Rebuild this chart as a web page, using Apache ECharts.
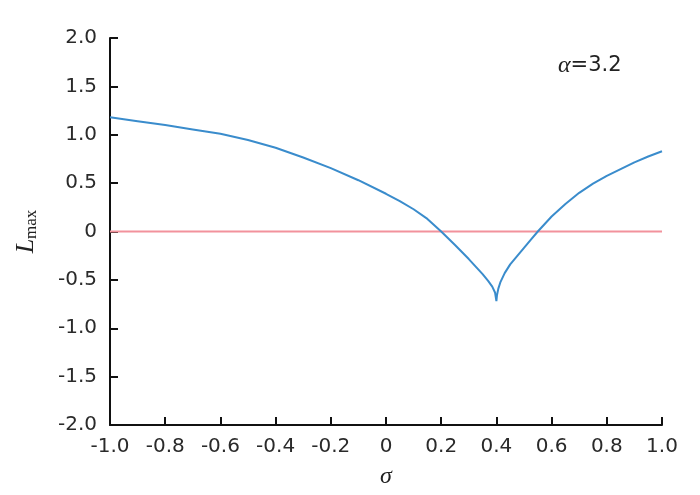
<!DOCTYPE html>
<html>
<head>
<meta charset="utf-8">
<script src="https://cdn.jsdelivr.net/npm/echarts@6/dist/echarts.min.js"></script>
<style>html,body{margin:0;padding:0;background:#fff}#c{width:700px;height:495px}</style>
</head>
<body>
<div id="c"></div>
<script>
const sigma = [-1.0,-0.9,-0.8,-0.7,-0.6,-0.5,-0.4,-0.3,-0.2,-0.1,0.0,0.05,0.1,0.15,0.2,0.25,0.3,0.35,0.37,0.385,0.395,0.40,0.402,0.407,0.415,0.43,0.45,0.475,0.5,0.525,0.55,0.6,0.65,0.7,0.75,0.8,0.85,0.9,0.95,1.0];
const lmax  = [1.18,1.14,1.10,1.055,1.01,0.945,0.865,0.765,0.655,0.53,0.39,0.315,0.23,0.13,0.0,-0.14,-0.285,-0.44,-0.51,-0.57,-0.63,-0.72,-0.66,-0.59,-0.52,-0.43,-0.34,-0.255,-0.17,-0.085,0.0,0.155,0.285,0.40,0.495,0.575,0.645,0.715,0.775,0.83];
const zeroX = [-1.0, 1.0];
const zeroY = [0, 0];
const annotation = '{a|α}{b|=3.2}';

const fmt = v => (Math.abs(v) < 1e-9 ? '0' : v.toFixed(1));
const font = 'DejaVu Sans';

const chart = echarts.init(document.getElementById('c'));
chart.setOption({
  animation: false,
  backgroundColor: '#fff',
  grid: {left: 110, right: 38, top: 38, bottom: 70},
  xAxis: {
    type: 'value', min: -1, max: 1, interval: 0.2,
    axisLine: {show: true, onZero: false, lineStyle: {color: '#111', width: 2}},
    axisTick: {show: true, inside: true, length: 8, lineStyle: {color: '#111', width: 2}},
    splitLine: {show: false},
    axisLabel: {color: '#2a2a2a', fontFamily: font, fontSize: 20, margin: 12, formatter: fmt},
    name: 'σ', nameLocation: 'middle', nameGap: 40,
    nameTextStyle: {fontFamily: 'Liberation Serif', fontStyle: 'italic', fontSize: 24, color: '#222'}
  },
  yAxis: {
    type: 'value', min: -2, max: 2, interval: 0.5,
    axisLine: {show: true, onZero: false, lineStyle: {color: '#111', width: 2}},
    axisTick: {show: true, inside: true, length: 8, lineStyle: {color: '#111', width: 2}},
    splitLine: {show: false},
    axisLabel: {color: '#2a2a2a', fontFamily: font, fontSize: 20, margin: 13, formatter: fmt},
    name: '{i|L}{s|max}', nameLocation: 'middle', nameGap: 70, nameRotate: 90,
    nameTextStyle: {
      color: '#222', fontSize: 24, fontFamily: 'Liberation Serif',
      rich: {
        i: {fontFamily: 'Liberation Serif', fontStyle: 'italic', fontSize: 26, color: '#222'},
        s: {fontFamily: 'Liberation Serif', fontSize: 17, color: '#222', padding: [10, 0, 0, 0]}
      }
    }
  },
  graphic: [{
    type: 'text', left: 558, top: 54,
    style: {
      text: annotation, fill: '#222',
      rich: {
        a: {fontFamily: 'Liberation Serif', fontStyle: 'italic', fontSize: 24, fill: '#222'},
        b: {fontFamily: font, fontSize: 21, fill: '#222'}
      }
    }
  }],
  series: [
    {
      type: 'line', data: zeroX.map((x, i) => [x, zeroY[i]]),
      showSymbol: false, lineStyle: {color: '#f2929c', width: 2}, z: 2
    },
    {
      type: 'line', data: sigma.map((x, i) => [x, lmax[i]]),
      showSymbol: false, lineStyle: {color: '#3a8ccc', width: 2}, z: 3
    }
  ]
});
</script>
</body>
</html>
